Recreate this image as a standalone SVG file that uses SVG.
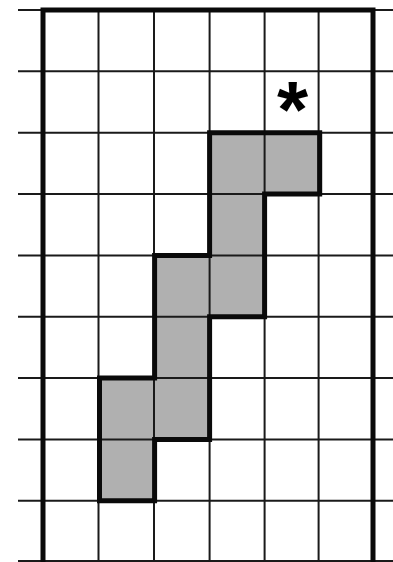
<svg xmlns="http://www.w3.org/2000/svg" width="393" height="562" viewBox="0 0 393 562">
<style>
.thin{stroke:#1a1a1a;stroke-width:2;fill:none}
.frame{stroke:#0a0a0a;stroke-width:5;fill:none}
.shade{fill:#b0b0b0;stroke:none}
.outline{stroke:#0a0a0a;stroke-width:5;fill:none;stroke-linejoin:miter}
</style>
<rect width="393" height="562" fill="#ffffff"/>
<g id="shaded-cells">
<rect class="shade" x="209.6" y="132.7" width="110.1" height="61.35"/>
<rect class="shade" x="209.6" y="194.05" width="55.05" height="122.7"/>
<rect class="shade" x="154.6" y="255.4" width="55.05" height="184.05"/>
<rect class="shade" x="99.5" y="378.1" width="55.05" height="122.7"/>
</g>
<g id="grid">
<line class="thin" x1="18" y1="71.35" x2="393" y2="71.35"/>
<line class="thin" x1="18" y1="132.7" x2="393" y2="132.7"/>
<line class="thin" x1="18" y1="194.05" x2="393" y2="194.05"/>
<line class="thin" x1="18" y1="255.4" x2="393" y2="255.4"/>
<line class="thin" x1="18" y1="316.75" x2="393" y2="316.75"/>
<line class="thin" x1="18" y1="378.1" x2="393" y2="378.1"/>
<line class="thin" x1="18" y1="439.45" x2="393" y2="439.45"/>
<line class="thin" x1="18" y1="500.8" x2="393" y2="500.8"/>
<line class="thin" x1="18" y1="561" x2="393" y2="561"/>
<line class="thin" x1="18" y1="10" x2="393" y2="10"/>
<line class="thin" x1="98.5" y1="10" x2="98.5" y2="562"/>
<line class="thin" x1="154" y1="10" x2="154" y2="562"/>
<line class="thin" x1="209.6" y1="10" x2="209.6" y2="562"/>
<line class="thin" x1="264.6" y1="10" x2="264.6" y2="562"/>
<line class="thin" x1="318.6" y1="10" x2="318.6" y2="562"/>
</g>
<g id="frame">
<polyline class="frame" points="43,562 43,10 373,10 373,562"/>
</g>
<g id="region-outline">
<polygon class="outline" points="209.6,132.7 319.7,132.7 319.7,194.05 264.6,194.05 264.6,316.75 209.6,316.75 209.6,439.45 154.6,439.45 154.6,500.8 99.5,500.8 99.5,378.1 154.6,378.1 154.6,255.4 209.6,255.4"/>
</g>
<g id="asterisk">
<text x="292.5" y="137" font-family="Liberation Sans, Arial, sans-serif" font-weight="bold" font-size="80" text-anchor="middle" fill="#000">*</text>
</g>
</svg>
